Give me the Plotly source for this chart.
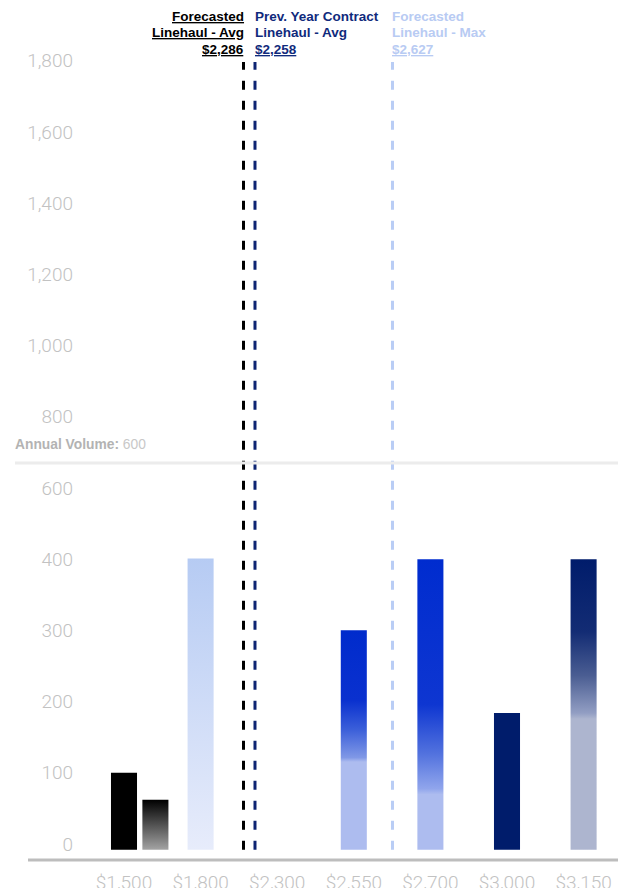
import numpy as np
import plotly.graph_objects as go

# ---------------- data ----------------
categories = ["$1,500", "$1,800", "$2,300", "$2,550", "$2,700", "$3,000", "$3,150"]
bar_category = ["$1,500", "$1,500", "$1,800", "$2,550", "$2,700", "$3,000", "$3,150"]
bar_values = [100, 62, 402, 300, 400, 184, 400]
y_tick_labels = [0, 100, 200, 300, 400, 600, 800, 1000, 1200, 1400, 1600, 1800]
ref_names = ["Forecasted<br>Linehaul - Avg", "Prev. Year Contract<br>Linehaul - Avg", "Forecasted<br>Linehaul - Max"]
ref_values = [2286, 2258, 2627]
annual_volume = 600

# ---------------- styles / layout ----------------
W, H = 618, 888
ML, MR, MT, MB = 77, 0, 40, 28
bar_offsets = [0, 0.41, 0, 0, 0, 0, 0]
bar_half = 0.17
bar_floor = -8
ref_x = [1.56, 1.71, 3.505]
ref_colors = ["#000000", "#0d2472", "#b9cdf5"]
ref_text_colors = ["#000000", "#102a7c", "#b8cbf3"]
ref_top = 1098
annual_line_y = 535
label_line_px = [17, 33, 49]

NAVY = "#001c6b"
bar_styles = [
    {"solid": "#000000"},
    {"grad": [[0, "#a3a3a3"], [1, "#000000"]]},
    {"grad": [[0, "#e7ecfb"], [1, "#b6cbf3"]]},
    {"grad": [[0, "#adbcef"], [0.40, "#adbcef"], [0.42, "#8098e6"], [0.55, "#3a5ed9"],
              [0.68, "#0a31cf"], [1, "#002bcc"]]},
    {"grad": [[0, "#adbcef"], [0.19, "#adbcef"], [0.21, "#90a5ec"], [0.33, "#5272de"],
              [0.5, "#0e36d1"], [1, "#002ccf"]]},
    {"solid": NAVY},
    {"grad": [[0, "#adb5cf"], [0.45, "#adb5cf"], [0.47, "#929ec3"], [0.6, "#4a5d92"],
              [0.75, "#132c74"], [1, NAVY]]},
]

tickvals = [i * 100 for i in range(len(y_tick_labels))]


def y_pos(v):
    return float(np.interp(v, y_tick_labels, tickvals))


cat_index = {c: i for i, c in enumerate(categories)}

fig = go.Figure()

for cat, val, off, st in zip(bar_category, bar_values, bar_offsets, bar_styles):
    xc = cat_index[cat] + off
    top = y_pos(val)
    xs = [xc - bar_half, xc + bar_half, xc + bar_half, xc - bar_half, xc - bar_half]
    ys = [bar_floor, bar_floor, top, top, bar_floor]
    if "solid" in st:
        fig.add_trace(go.Scatter(x=xs, y=ys, mode="lines", fill="toself",
                                 fillcolor=st["solid"], line=dict(width=0, color=st["solid"]),
                                 hoverinfo="skip"))
    else:
        fig.add_trace(go.Scatter(x=xs, y=ys, mode="lines", fill="toself",
                                 fillgradient=dict(type="vertical", colorscale=st["grad"],
                                                   start=bar_floor, stop=top),
                                 line=dict(width=0, color="rgba(0,0,0,0)"),
                                 hoverinfo="skip"))

# reference dashed lines
for rx, col in zip(ref_x, ref_colors):
    fig.add_trace(go.Scatter(x=[rx, rx], y=[bar_floor, ref_top], mode="lines",
                             line=dict(color=col, width=3, dash="9px,11px"),
                             hoverinfo="skip"))

# horizontal lines
x_paper = lambda px: (px - ML) / (W - ML - MR)
y_paper = lambda py: (H - MB - py) / (H - MB - MT)

fig.add_shape(type="line", xref="paper", yref="y", x0=x_paper(15), x1=1.0,
              y0=annual_line_y, y1=annual_line_y, line=dict(color="#ececec", width=3))
fig.add_shape(type="line", xref="paper", yref="paper", x0=x_paper(28), x1=1.0,
              y0=0, y1=0, line=dict(color="#bdbdbd", width=3))

fig.add_annotation(xref="paper", yref="paper", x=x_paper(13), y=y_paper(444),
                   xanchor="left", yanchor="middle", showarrow=False,
                   text=f"<b>Annual Volume:</b> <span style='color:#c8c8c8'>{annual_volume}</span>",
                   font=dict(family="Liberation Sans", size=13.8, color="#b3b3b3"))

# top labels (one annotation per line)
FONT = "Liberation Sans"
for k in range(3):
    lines = ref_names[k].split("<br>") + [f"${ref_values[k]:,}"]
    for j, (txt, py) in enumerate(zip(lines, label_line_px)):
        underline = (k == 0) or (j == 2)
        font = dict(family=FONT, size=13.5, color=ref_text_colors[k], weight="bold")
        if underline:
            font["lineposition"] = "under"
        if k == 0:
            fig.add_annotation(xref="x", yref="paper", x=ref_x[k], xshift=2, y=y_paper(py),
                               xanchor="right", yanchor="middle", showarrow=False,
                               text=txt, font=font)
        else:
            fig.add_annotation(xref="x", yref="paper", x=ref_x[k], xshift=-2, y=y_paper(py),
                               xanchor="left", yanchor="middle", showarrow=False,
                               text=txt, font=font)

x_lo = (ML - 124) / 76.6
x_hi = (W - MR - 124) / 76.6
tick_font = dict(family="Roboto", size=19, color="#c2c2c2", weight=300)
fig.update_layout(
    width=W, height=H, margin=dict(l=ML, r=MR, t=MT, b=MB, autoexpand=False),
    plot_bgcolor="white", paper_bgcolor="white", showlegend=False,
    xaxis=dict(range=[x_lo, x_hi], tickvals=list(range(len(categories))), ticktext=categories,
               showgrid=False, zeroline=False, showline=False, ticks="",
               tickfont=tick_font, ticklabelstandoff=9, automargin=False, fixedrange=True),
    yaxis=dict(range=[-22.5, 1129], tickvals=tickvals, ticktext=[f"{v:,}" for v in y_tick_labels],
               showgrid=False, zeroline=False, showline=False, ticks="",
               tickfont=tick_font, ticklabelstandoff=3, automargin=False, fixedrange=True),
)

fig.write_html("out.html", config={"displayModeBar": False})
